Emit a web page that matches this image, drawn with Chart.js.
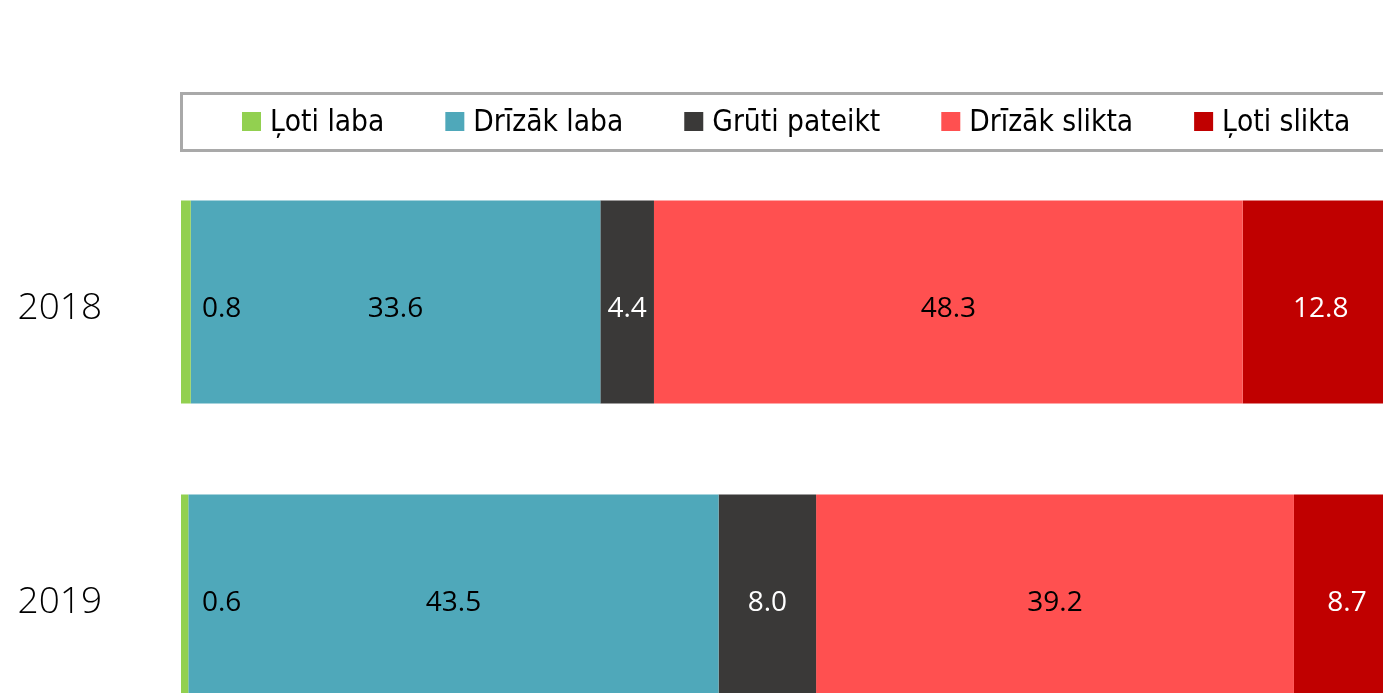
<!DOCTYPE html>
<html>
<head>
<meta charset="utf-8">
<script src="https://cdn.jsdelivr.net/npm/chart.js@4"></script>
<style>
  html, body { margin: 0; padding: 0; background: #fff; overflow: hidden; width: 1383px; height: 693px; }
  #wrap { position: absolute; left: 0; top: 0; width: 1400px; height: 743px; }
</style>
</head>
<body>
<div id="wrap"><canvas id="myChart" width="1400" height="743"></canvas></div>
<script>
const years = ['2018', '2019'];
const seriesNames = ['Ļoti laba', 'Drīzāk laba', 'Grūti pateikt', 'Drīzāk slikta', 'Ļoti slikta'];
const lotiLaba = [0.8, 0.6];
const drizakLaba = [33.6, 43.5];
const grutiPateikt = [4.4, 8.0];
const drizakSlikta = [48.3, 39.2];
const lotiSlikta = [12.8, 8.7];
const seriesColors = ['#92d050', '#4fa8ba', '#3a3938', '#ff5050', '#c00000'];
const labelColors = ['#000', '#000', '#fff', '#000', '#fff'];

const allValues = [lotiLaba, drizakLaba, grutiPateikt, drizakSlikta, lotiSlikta];

// legend in a grey box, drawn by hand
const boxLegend = {
  id: 'boxLegend',
  afterDraw(chart) {
    const c = chart.ctx;
    c.save();
    c.strokeStyle = '#a9a9a9';
    c.lineWidth = 3;
    c.strokeRect(181.5, 93.5, 1400, 57);
    c.font = '29.6px "Liberation Sans Narrow", "DejaVu Sans Condensed", sans-serif';
    c.textBaseline = 'middle';
    c.textAlign = 'left';
    let x = 242;
    seriesNames.forEach((name, i) => {
      c.fillStyle = seriesColors[i];
      c.fillRect(x, 112, 19, 19);
      c.fillStyle = '#000';
      c.fillText(name, x + 28, 123);
      x += 28 + c.measureText(name).width + 61;
    });
    c.restore();
  }
};

// values on the bars
const barValues = {
  id: 'barValues',
  afterDatasetsDraw(chart) {
    const c = chart.ctx;
    c.save();
    c.font = '28px "Open Sans", sans-serif';
    c.textBaseline = 'middle';
    chart.data.datasets.forEach((ds, i) => {
      chart.getDatasetMeta(i).data.forEach((bar, j) => {
        const v = ds.data[j];
        const w = Math.abs(bar.x - bar.base);
        if (w < 20) {
          c.fillStyle = '#000';
          c.textAlign = 'left';
          c.fillText(v.toFixed(1), 202, bar.y + 7);
        } else {
          c.fillStyle = labelColors[i];
          c.textAlign = 'center';
          c.fillText(v.toFixed(1), (bar.x + bar.base) / 2, bar.y + 7);
        }
      });
    });
    c.restore();
  }
};

const ctx = document.getElementById('myChart').getContext('2d');
let myChart = new Chart(ctx, {
  type: 'bar',
  data: {
    labels: years,
    datasets: seriesNames.map((name, i) => ({
      label: name,
      data: allValues[i],
      backgroundColor: seriesColors[i],
      borderWidth: 0,
      barPercentage: 0.69,
      categoryPercentage: 1
    }))
  },
  options: {
    indexAxis: 'y',
    responsive: false,
    animation: false,
    devicePixelRatio: 1,
    layout: { padding: { top: 155, left: 0, right: 0, bottom: 0 } },
    plugins: {
      legend: { display: false },
      tooltip: { enabled: false }
    },
    scales: {
      x: {
        stacked: true,
        min: 0,
        max: 100,
        display: false
      },
      y: {
        stacked: true,
        grid: { display: false, drawTicks: false },
        border: { display: false },
        ticks: {
          color: '#000',
          padding: 79,
          labelOffset: 6,
          font: { family: 'Open Sans', size: 37, weight: '300' }
        },
        afterFit(scale) {
          scale.width = 181;
          scale.paddingTop = 0;
          scale.paddingBottom = 0;
        }
      }
    }
  },
  plugins: [boxLegend, barValues]
});
</script>
</body>
</html>
